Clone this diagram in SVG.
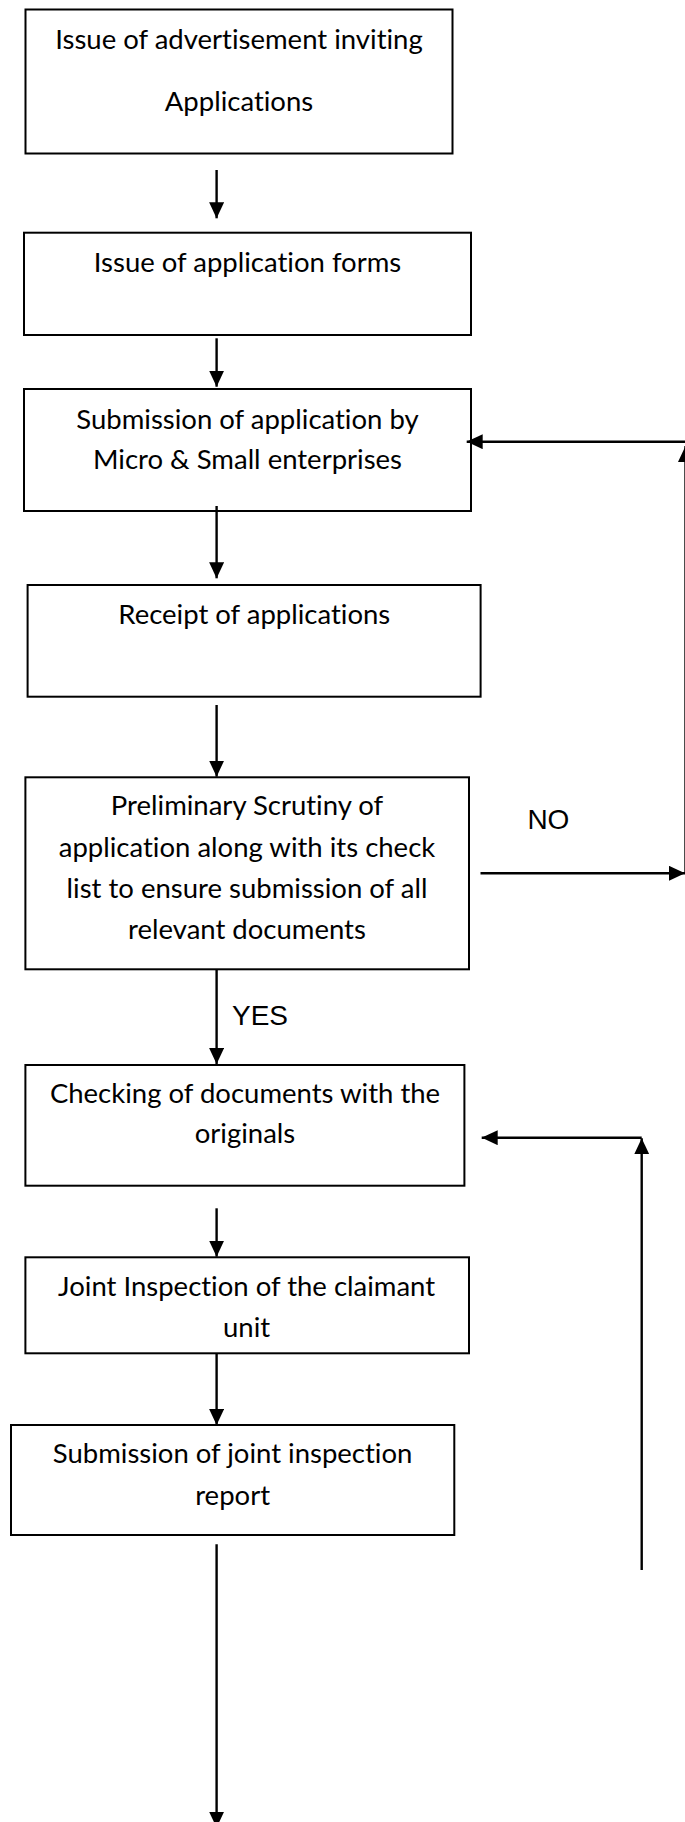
<svg xmlns="http://www.w3.org/2000/svg" width="685" height="1822" viewBox="0 0 685 1822">
<style>
.box{fill:#fff;stroke:#000;stroke-width:2}
.t{font-family:Lato,"Open Sans",sans-serif;font-size:27.5px;fill:#000;text-anchor:middle;font-variant-ligatures:none;font-feature-settings:"liga" 0,"dlig" 0}
.lbl{font-family:"Liberation Sans",Arial,sans-serif;font-size:28px;fill:#000}
.c{fill:none;stroke:#000;stroke-width:2.4}
</style>
<defs>
<marker id="ah" markerUnits="userSpaceOnUse" markerWidth="16" markerHeight="15" refX="16" refY="7.5" orient="auto">
<path d="M0,0 L16,7.5 L0,15 z" fill="#000"/>
</marker>
</defs>
<rect width="685" height="1822" fill="#fff"/>
<g id="n1"><rect class="box" x="25.5" y="9.5" width="427" height="144"/>
<text class="t" x="239" y="49">Issue of advertisement inviting</text>
<text class="t" x="239" y="111">Applications</text></g>
<g id="n2"><rect class="box" x="24" y="232.7" width="447" height="102.3"/>
<text class="t" x="247.5" y="272">Issue of application forms</text></g>
<g id="n3"><rect class="box" x="24" y="389" width="447" height="122"/>
<text class="t" x="247.5" y="428.5">Submission of application by</text>
<text class="t" x="247.5" y="468.5">Micro &amp; Small enterprises</text></g>
<g id="n4"><rect class="box" x="27.6" y="585" width="453" height="111.7"/>
<text class="t" x="254.3" y="624">Receipt of applications</text></g>
<g id="n5"><rect class="box" x="25.4" y="777.3" width="443.6" height="192"/>
<text class="t" x="247" y="815">Preliminary Scrutiny of</text>
<text class="t" x="247" y="856.5">application along with its check</text>
<text class="t" x="247" y="897.5">list to ensure submission of all</text>
<text class="t" x="247" y="939">relevant documents</text></g>
<g id="n6"><rect class="box" x="25.4" y="1065" width="439" height="120.7"/>
<text class="t" x="245" y="1103.3">Checking of documents with the</text>
<text class="t" x="245" y="1143">originals</text></g>
<g id="n7"><rect class="box" x="25.4" y="1257.3" width="443.6" height="96"/>
<text class="t" x="246.6" y="1295.7">Joint Inspection of the claimant</text>
<text class="t" x="246.6" y="1337.3">unit</text></g>
<g id="n8"><rect class="box" x="11" y="1425" width="443.3" height="110"/>
<text class="t" x="232.6" y="1463.3">Submission of joint inspection</text>
<text class="t" x="232.6" y="1505">report</text></g>
<g id="connectors">
<line class="c" x1="216.6" y1="170" x2="216.6" y2="218.3" marker-end="url(#ah)"/>
<line class="c" x1="216.6" y1="338.3" x2="216.6" y2="386.7" marker-end="url(#ah)"/>
<line class="c" x1="216.6" y1="506" x2="216.6" y2="578.3" marker-end="url(#ah)"/>
<line class="c" x1="216.6" y1="705" x2="216.6" y2="776.7" marker-end="url(#ah)"/>
<line class="c" x1="216.6" y1="969.3" x2="216.6" y2="1064" marker-end="url(#ah)"/>
<line class="c" x1="216.6" y1="1208.3" x2="216.6" y2="1256.7" marker-end="url(#ah)"/>
<line class="c" x1="216.6" y1="1353.3" x2="216.6" y2="1425" marker-end="url(#ah)"/>
<line class="c" x1="216.6" y1="1544.3" x2="216.6" y2="1827.7" marker-end="url(#ah)"/>
<line class="c" x1="480.5" y1="873.3" x2="685" y2="873.3" marker-end="url(#ah)"/>
<line class="c" x1="685.5" y1="873.3" x2="685.5" y2="446" marker-end="url(#ah)"/>
<line class="c" x1="685" y1="441.7" x2="466.7" y2="441.7" marker-end="url(#ah)"/>
<line class="c" x1="641.7" y1="1570" x2="641.7" y2="1138.3" marker-end="url(#ah)"/>
<line class="c" x1="641.7" y1="1137.7" x2="481.7" y2="1137.7" marker-end="url(#ah)"/>
<text class="lbl" x="527.4" y="829">NO</text>
<text class="lbl" x="232" y="1025">YES</text>
</g>
</svg>
